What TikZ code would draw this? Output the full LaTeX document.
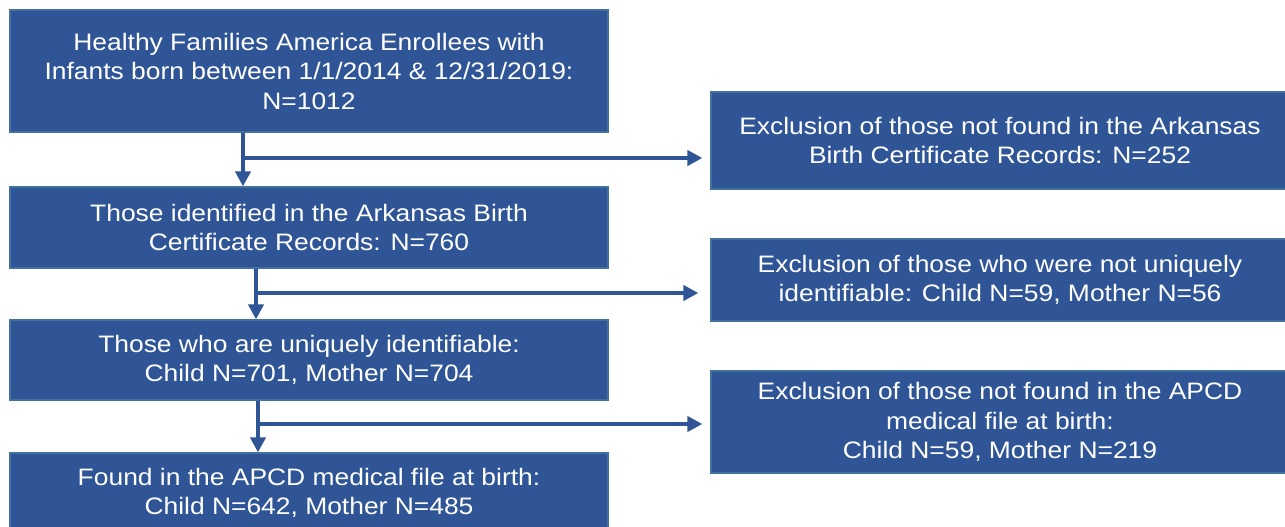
\documentclass[tikz,border=0pt]{standalone}
\usepackage{fontspec}
\setmainfont{Liberation Sans}[FakeStretch=1.11]
\usetikzlibrary{arrows.meta}
\definecolor{boxfill}{HTML}{2F5597}
\definecolor{boxline}{HTML}{41719C}
\definecolor{arrcol}{HTML}{2F5597}
\tikzset{
  flowbox/.style={draw=boxline, line width=1.2pt, fill=boxfill, text=white, align=center,
    inner sep=0pt, font=\fontsize{23.8}{29.5}\selectfont},
  arr/.style={draw=arrcol, line width=4.5pt, -{Triangle[length=15pt,width=15pt]}}
}
\begin{document}
\begin{tikzpicture}[x=1pt,y=-1pt]
\useasboundingbox (0,0) rectangle (1285,527);
\fill[white] (0,0) rectangle (1285,527);
\node[flowbox, minimum width=598pt, minimum height=122pt] (b1) at (309,71)
  {Healthy Families America Enrollees with\\Infants born between 1/1/2014 \& 12/31/2019:\\N=1012};
\node[flowbox, minimum width=598pt, minimum height=81pt] (b2) at (309,227.5)
  {Those identified in the Arkansas Birth\\Certificate Records: N=760};
\node[flowbox, minimum width=598pt, minimum height=80pt] (b3) at (309,360)
  {Those who are uniquely identifiable:\\Child N=701, Mother N=704};
\node[flowbox, minimum width=598pt, minimum height=80pt] (b4) at (309,493)
  {Found in the APCD medical file at birth:\\Child N=642, Mother N=485};
\node[flowbox, minimum width=578pt, minimum height=97pt] (r1) at (1000,140.5)
  {Exclusion of those not found in the Arkansas\\Birth Certificate Records: N=252};
\node[flowbox, minimum width=578pt, minimum height=82pt] (r2) at (1000,280)
  {Exclusion of those who were not uniquely\\identifiable: Child N=59, Mother N=56};
\node[flowbox, minimum width=578pt, minimum height=102pt] (r3) at (1000,422)
  {Exclusion of those not found in the APCD\\medical file at birth:\\Child N=59, Mother N=219};
\coordinate (j1) at (243,158);
\coordinate (j2) at (256,293);
\coordinate (j3) at (258,424);
\draw[arr] (b1.south -| j1) -- (b2.north -| j1);
\draw[arr, shorten >=8pt] ([xshift=-2pt]j1) -- (j1 -| r1.west);
\draw[arr] (b2.south -| j2) -- (b3.north -| j2);
\draw[arr, shorten >=12pt] ([xshift=-2pt]j2) -- (j2 -| r2.west);
\draw[arr] (b3.south -| j3) -- (b4.north -| j3);
\draw[arr, shorten >=8pt] ([xshift=-2pt]j3) -- (j3 -| r3.west);
\end{tikzpicture}
\end{document}
